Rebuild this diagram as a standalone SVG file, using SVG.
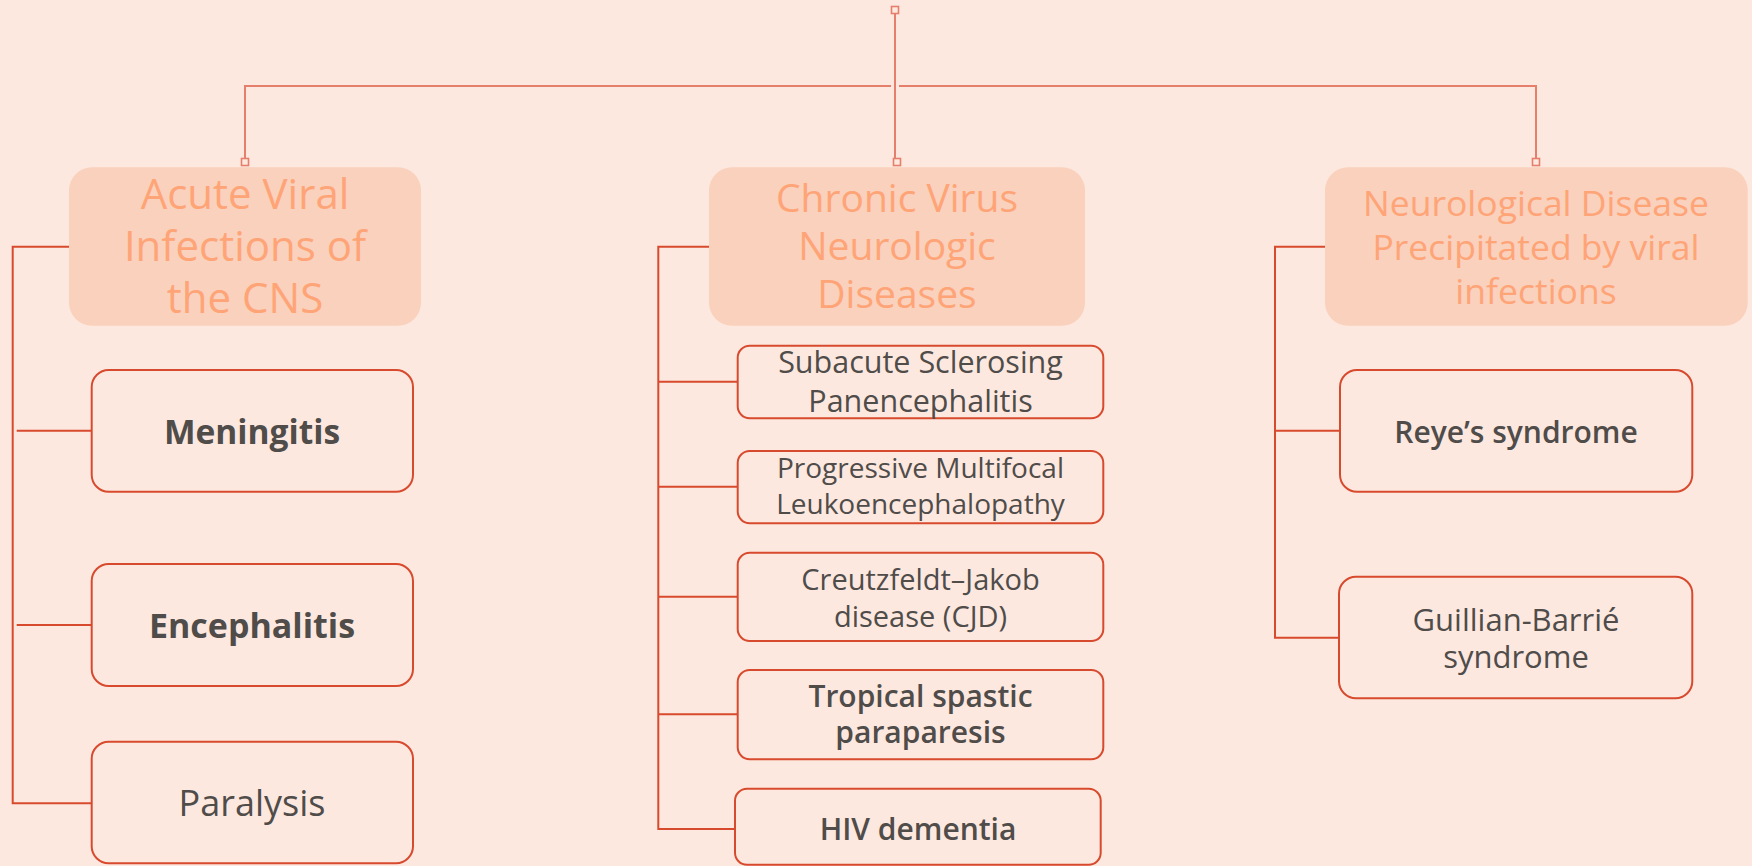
<svg xmlns="http://www.w3.org/2000/svg" width="1752" height="866" viewBox="0 0 1752 866">
<style>
.bg{fill:#FDE8DF}
.head{fill:#F9D1BD;stroke:none}
.htxt{fill:#FFA477;font-family:"Open Sans","Noto Sans","Liberation Sans",sans-serif;text-anchor:middle;font-variant-ligatures:none;font-weight:500}
.child{fill:#FDE8DF;stroke:#D84A2E;stroke-width:2}
.ctxt{fill:#4F4C4A;font-family:"Open Sans","Noto Sans","Liberation Sans",sans-serif;text-anchor:middle;font-variant-ligatures:none}
.top{fill:none;stroke:#E57F6C;stroke-width:2}
.sq{fill:#FDE8DF;stroke:#E57F6C;stroke-width:1.6}
.link{fill:none;stroke:#D84A2E;stroke-width:2}
</style>
<rect class="bg" x="0" y="0" width="1752" height="866"/>
<g id="connectors">
  <path class="top" d="M895,14 V158"/>
  <path class="top" d="M245,158 V86 H891 M899,86 H1536 V158"/>
  <rect class="sq" x="891.5" y="6.5" width="7" height="7"/>
  <rect class="sq" x="241.5" y="158.5" width="7" height="7"/>
  <rect class="sq" x="893.5" y="158.5" width="7" height="7"/>
  <rect class="sq" x="1532.5" y="158.5" width="7" height="7"/>
  <path class="link" d="M69,246.7 H12.7 V803.3 H91.7 M16.7,430.7 H91.7 M16.7,625 H91.7"/>
  <path class="link" d="M709,246.7 H658.3 V829 H735 M658.3,381.7 H737.7 M658.3,486.7 H737.7 M658.3,596.7 H737.7 M658.3,714.3 H737.7"/>
  <path class="link" d="M1325,246.7 H1275 V637.7 H1339 M1275,430.7 H1340"/>
</g>
<g id="acute">
  <rect class="head" x="69" y="167.3" width="352" height="158.4" rx="23"/>
  <text class="htxt" font-size="42"><tspan x="245" y="209">Acute Viral</tspan><tspan x="245" y="261">Infections of</tspan><tspan x="245" y="313">the CNS</tspan></text>
</g>
<g id="chronic">
  <rect class="head" x="709" y="167.3" width="376" height="158.4" rx="23"/>
  <text class="htxt" font-size="39"><tspan x="897" y="212">Chronic Virus</tspan><tspan x="897" y="260">Neurologic</tspan><tspan x="897" y="308">Diseases</tspan></text>
</g>
<g id="neuro">
  <rect class="head" x="1325" y="167.3" width="422.7" height="158.4" rx="23"/>
  <text class="htxt" font-size="35.5"><tspan x="1536" y="216">Neurological Disease</tspan><tspan x="1536" y="260">Precipitated by viral</tspan><tspan x="1536" y="304">infections</tspan></text>
</g>
<g id="meningitis">
  <rect class="child" x="91.7" y="370" width="321.3" height="121.7" rx="17"/>
  <text class="ctxt" font-size="33.5" font-weight="bold" x="252" y="444">Meningitis</text>
</g>
<g id="encephalitis">
  <rect class="child" x="91.7" y="564" width="321.3" height="122" rx="17"/>
  <text class="ctxt" font-size="34" font-weight="bold" x="252" y="638">Encephalitis</text>
</g>
<g id="paralysis">
  <rect class="child" x="91.7" y="741.7" width="321.3" height="121.6" rx="17"/>
  <text class="ctxt" font-size="36" x="252" y="816">Paralysis</text>
</g>
<g id="sspe">
  <rect class="child" x="737.7" y="345.7" width="365.6" height="72.6" rx="12"/>
  <text class="ctxt" font-size="30.5"><tspan x="920.5" y="373">Subacute Sclerosing</tspan><tspan x="920.5" y="412">Panencephalitis</tspan></text>
</g>
<g id="pml">
  <rect class="child" x="737.7" y="451" width="365.6" height="72.3" rx="12"/>
  <text class="ctxt" font-size="28"><tspan x="920.5" y="478">Progressive Multifocal</tspan><tspan x="920.5" y="514">Leukoencephalopathy</tspan></text>
</g>
<g id="cjd">
  <rect class="child" x="737.7" y="552.7" width="365.6" height="88.3" rx="12"/>
  <text class="ctxt" font-size="29"><tspan x="920.5" y="590">Creutzfeldt–Jakob</tspan><tspan x="920.5" y="627">disease (CJD)</tspan></text>
</g>
<g id="tsp">
  <rect class="child" x="737.7" y="670" width="365.6" height="89.3" rx="12"/>
  <text class="ctxt" font-size="30" font-weight="600"><tspan x="920.5" y="707">Tropical spastic</tspan><tspan x="920.5" y="743">paraparesis</tspan></text>
</g>
<g id="hiv">
  <rect class="child" x="735" y="788.7" width="365.7" height="76" rx="12"/>
  <text class="ctxt" font-size="30" font-weight="600" x="918" y="840">HIV dementia</text>
</g>
<g id="reye">
  <rect class="child" x="1340" y="370" width="352.3" height="121.7" rx="17"/>
  <text class="ctxt" font-size="30" font-weight="600" x="1516" y="443">Reye’s syndrome</text>
</g>
<g id="gbs">
  <rect class="child" x="1339" y="576.7" width="353.3" height="121.6" rx="17"/>
  <text class="ctxt" font-size="31" font-weight="500"><tspan x="1516" y="631">Guillian-Barrié</tspan><tspan x="1516" y="668">syndrome</tspan></text>
</g>
</svg>
